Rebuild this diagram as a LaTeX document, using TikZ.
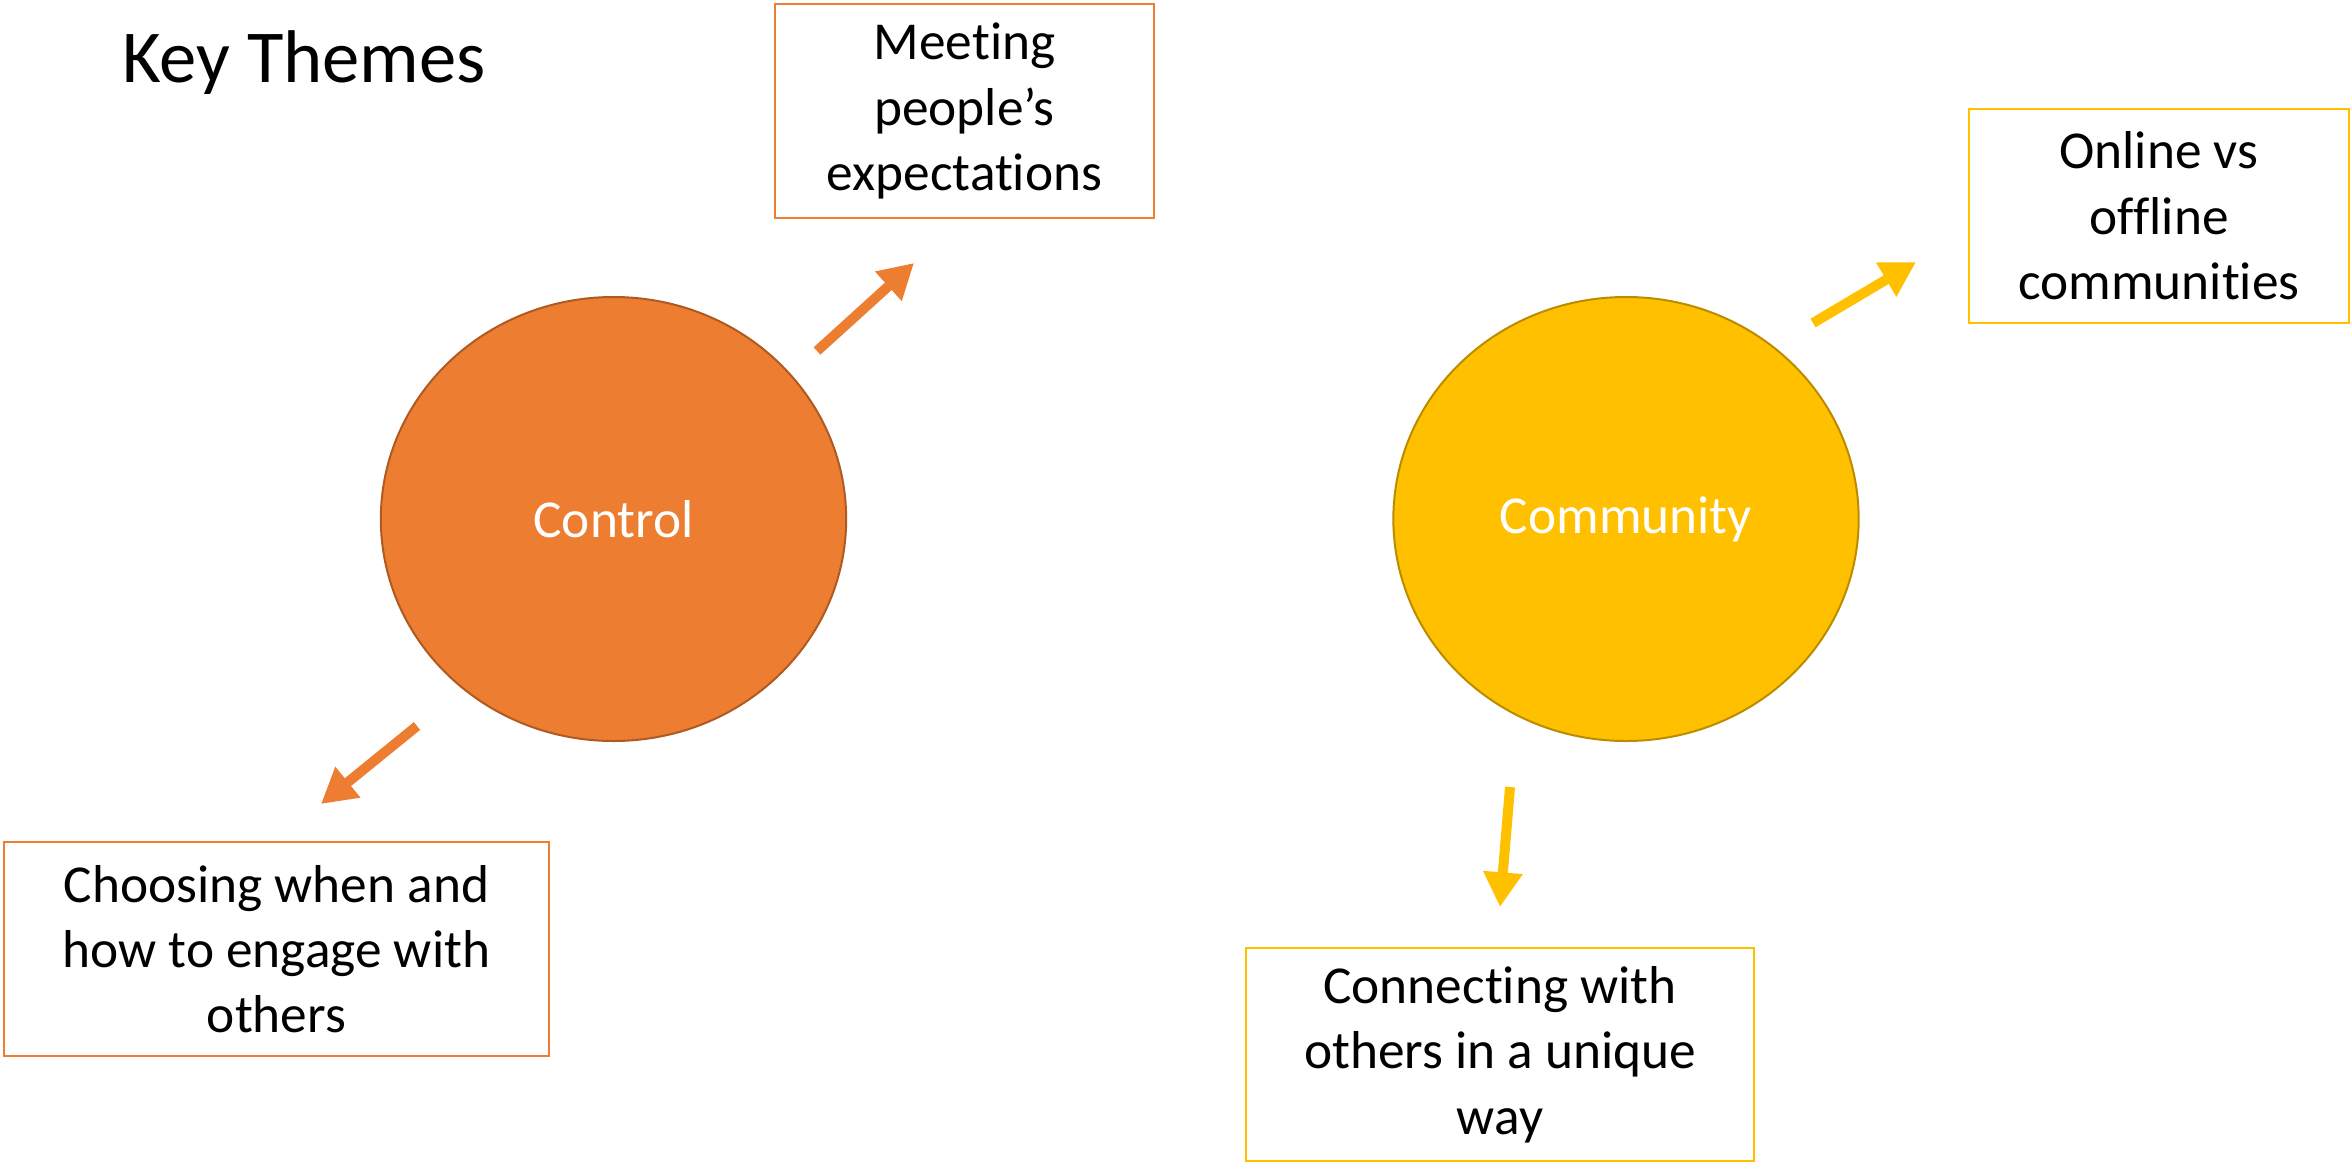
\documentclass[tikz,border=0pt]{standalone}
\usepackage{fontspec}
\setmainfont{Carlito}[Ligatures={NoCommon,NoContextual}]
\usetikzlibrary{arrows.meta,shapes.geometric}
\definecolor{ctrlorange}{RGB}{237,125,49}
\definecolor{ctrledge}{RGB}{174,90,33}
\definecolor{commgold}{RGB}{255,192,0}
\definecolor{commedge}{RGB}{188,140,0}
\tikzset{
  themeblob/.style={ellipse, line width=1.5pt, minimum width=349pt, minimum height=333pt, inner sep=0pt, text=white, font=\fontsize{40}{49}\selectfont},
  subbox/.style={draw, line width=1.5pt, minimum height=160pt, inner sep=0pt, align=center, font=\fontsize{40}{49}\selectfont},
  themearrow/.style={line width=7.5pt, -{Triangle[width=28pt,length=26pt]}}
}

\begin{document}
\begin{tikzpicture}[x=0.75pt,y=0.75pt,yscale=-1,xscale=1]
\useasboundingbox (0,0) rectangle (2351,1163);

% Title
\node (title) [anchor=base west, inner sep=0pt, font=\fontsize{56}{67}\selectfont] at (122,83) {Key Themes};

%Shape: Ellipse [Control]
\node (control) [themeblob, fill=ctrlorange, draw=ctrledge] at (613.5,519) {Control};
%Shape: Ellipse [Community]
\node (community) [themeblob, fill=commgold, draw=commedge] at (1626,519) {Community};

%Shape: Rectangle [Meeting]
\node (meeting) [subbox, draw=ctrlorange, minimum width=284pt] at (964.5,111) {Meeting\\people’s\\expectations};
%Shape: Rectangle [Choosing]
\node (choosing) [subbox, draw=ctrlorange, minimum width=409pt] at (276.5,949) {Choosing when and\\how to engage with\\others};
%Shape: Rectangle [Online]
\node (online) [subbox, draw=commgold, minimum width=285pt] at (2159,216) {Online vs\\offline\\communities};
%Shape: Rectangle [Connecting]
\node (connecting) [subbox, draw=commgold, minimum width=381pt] at (1500,1054.5) {Connecting with\\others in a unique\\way};

% Arrow ends
\coordinate (meetTail) at (817,351);
\coordinate (meetTip) at (914,263);
\coordinate (chooseTail) at (417,726);
\coordinate (chooseTip) at (321,804);
\coordinate (onlineTail) at (1813,323);
\coordinate (onlineTip) at (1916,262);
\coordinate (connectTail) at (1510,787);
\coordinate (connectTip) at (1500,907);

%Straight Lines [arrows]
\draw [themearrow, ctrlorange] (meetTail) -- (meetTip);
\draw [themearrow, ctrlorange] (chooseTail) -- (chooseTip);
\draw [themearrow, commgold] (onlineTail) -- (onlineTip);
\draw [themearrow, commgold] (connectTail) -- (connectTip);

\end{tikzpicture}
\end{document}
